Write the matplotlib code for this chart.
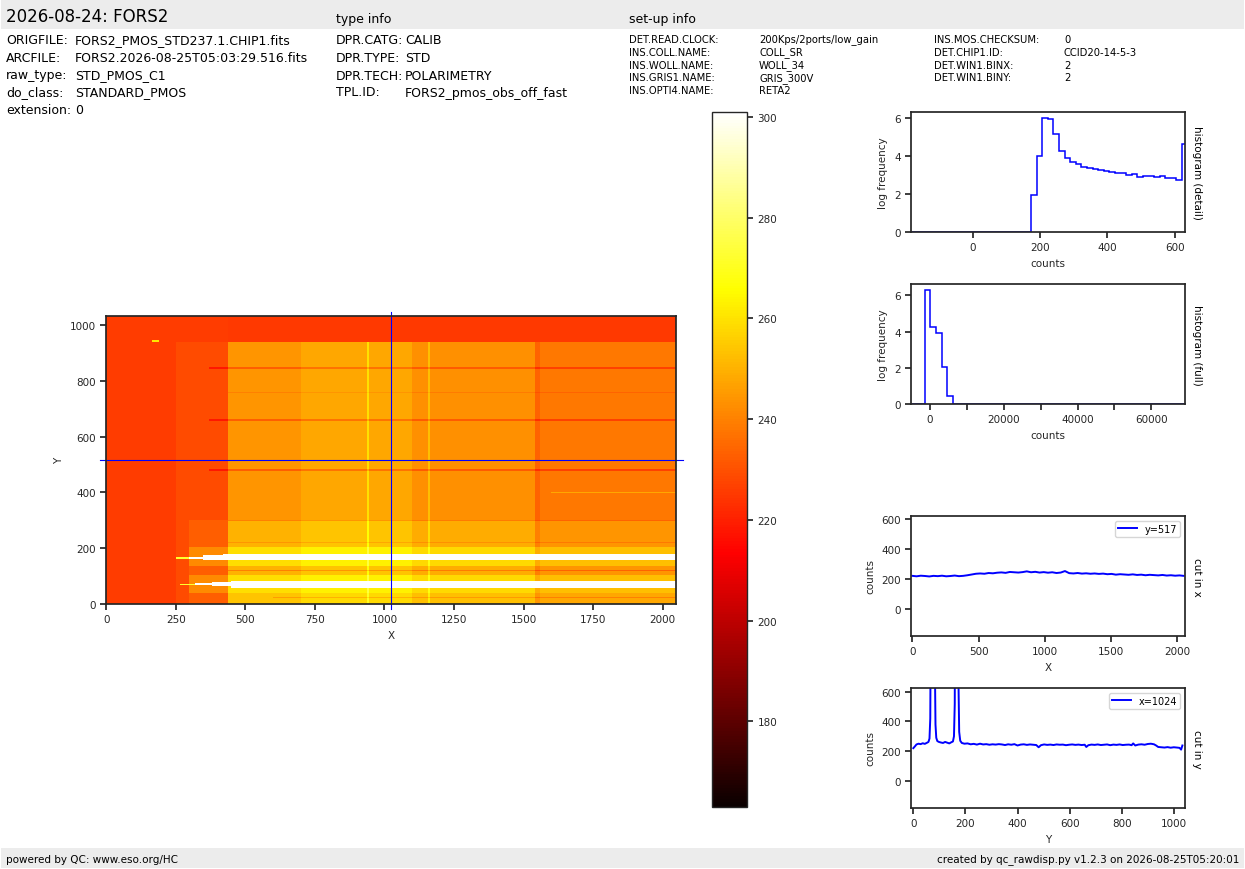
import numpy as np
import matplotlib
matplotlib.use("Agg")
import matplotlib.pyplot as plt
from matplotlib.patches import Rectangle

# ---- header / footer text
title = "2026-08-24: FORS2"
file_keys = ["ORIGFILE:", "ARCFILE:", "raw_type:", "do_class:", "extension:"]
file_vals = ["FORS2_PMOS_STD237.1.CHIP1.fits", "FORS2.2026-08-25T05:03:29.516.fits",
             "STD_PMOS_C1", "STANDARD_PMOS", "0"]
type_keys = ["DPR.CATG:", "DPR.TYPE:", "DPR.TECH:", "TPL.ID:"]
type_vals = ["CALIB", "STD", "POLARIMETRY", "FORS2_pmos_obs_off_fast"]
setup_keys1 = ["DET.READ.CLOCK:", "INS.COLL.NAME:", "INS.WOLL.NAME:", "INS.GRIS1.NAME:", "INS.OPTI4.NAME:"]
setup_vals1 = ["200Kps/2ports/low_gain", "COLL_SR", "WOLL_34", "GRIS_300V", "RETA2"]
setup_keys2 = ["INS.MOS.CHECKSUM:", "DET.CHIP1.ID:", "DET.WIN1.BINX:", "DET.WIN1.BINY:"]
setup_vals2 = ["0", "CCID20-14-5-3", "2", "2"]
footer_left = "powered by QC: www.eso.org/HC"
footer_right = "created by qc_rawdisp.py v1.2.3 on 2026-08-25T05:20:01"

# ---- image model (detector 2048 x 1034), regions: x0, x1, y0, y1, level
nx, ny = 2048, 1034
base_regions = [
    (0, 2048, 0, 1034, 226),
    (250, 440, 0, 940, 229),
    (440, 700, 0, 940, 244),
    (700, 1100, 0, 940, 248),
    (1100, 1540, 0, 940, 243),
    (1540, 1560, 0, 940, 234),
    (1560, 2048, 0, 940, 238),
    (440, 2048, 940, 1034, 225),
]
offset_regions = [
    (300, 440, 0, 300, 4), (440, 2048, 0, 300, 6),
    (300, 2048, 135, 205, 9), (300, 2048, 38, 105, 9),
    (440, 2048, 0, 38, 4),
    (370, 2048, 845, 851, -11), (370, 2048, 657, 663, -11),
    (370, 2048, 477, 483, -11), (440, 2048, 297, 302, -10),
    (440, 2048, 117, 122, -10), (600, 2048, 20, 24, -8),
    (700, 2048, 573, 576, -6), (440, 2048, 218, 221, -6),
    (440, 2048, 758, 761, -4), (1600, 2048, 398, 402, 10),
    (937, 944, 0, 940, 12), (1157, 1163, 0, 940, 10),
    (165, 190, 942, 948, 35),
]
spectra_regions = [
    (250, 300, 163, 167, 272), (300, 350, 160, 170, 330),
    (350, 420, 157, 176, 330), (420, 2048, 157, 181, 330),
    (265, 320, 69, 73, 272), (320, 380, 67, 76, 330),
    (380, 450, 63, 80, 330), (450, 2048, 59, 82, 330),
]
vmin, vmax = 163, 301
cut_row, cut_col = 517, 1024

# ---- histograms
det_edges = [-190, 173, 189.6, 206.2, 222.8, 239.4, 256, 272.6, 289.2, 305.8, 322.4, 339,
             355.6, 372.2, 388.8, 405.4, 422, 438.6, 455.2, 471.8, 488.4, 505, 521.6,
             538.2, 554.8, 571.4, 588, 604.6, 621.2, 637.8]
det_logfreq = [0, 1.95, 4.0, 6.0, 5.95, 5.17, 4.26, 3.88, 3.70, 3.56, 3.44, 3.39, 3.33,
               3.25, 3.19, 3.14, 3.12, 3.10, 3.02, 3.07, 2.91, 2.96, 2.96, 2.91, 2.96,
               2.86, 2.86, 2.75, 4.61]
full_edges = [-6000, -1350, 180, 1710, 3240, 4770, 6300, 70000]
full_logfreq = [0, 6.32, 4.28, 3.95, 2.05, 0.46, 0]

# ---- cuts
cutx_pos = list(range(0, 2048, 32)) + [2047]
cutx_val = [222, 219, 223, 221, 218, 222, 220, 223, 219, 221, 224, 220, 222, 226, 231, 236,
            238, 236, 241, 239, 243, 245, 242, 248, 246, 244, 247, 252, 246, 249, 244, 247,
            243, 246, 241, 244, 254, 240, 238, 241, 237, 239, 236, 238, 235, 237, 233, 235,
            230, 233, 231, 229, 232, 228, 230, 226, 229, 227, 225, 228, 224, 226, 223, 225,
            222]
cuty_pos = [0, 6, 12, 20, 28, 36, 44, 52, 58, 62, 65, 68, 71, 75, 79, 82, 85, 88, 92, 98,
            106, 114, 122, 130, 138, 146, 152, 156, 159, 162, 166, 170, 173, 176, 180, 186,
            196, 208, 220, 232, 244, 256, 268, 280, 292, 304, 316, 328, 340, 352, 364, 376,
            388, 400, 412, 424, 436, 448, 460, 472, 481, 490, 502, 514, 526, 538, 550, 562,
            574, 586, 598, 610, 622, 634, 646, 658, 664, 672, 684, 696, 708, 720, 732, 744,
            756, 768, 780, 792, 804, 816, 828, 838, 844, 852, 864, 876, 888, 900, 912, 924,
            932, 940, 952, 964, 976, 988, 1000, 1012, 1022, 1028, 1033]
cuty_val = [220, 232, 245, 250, 247, 253, 249, 256, 262, 285, 420, 1500, 4000, 5000, 3000,
            900, 380, 290, 268, 262, 258, 255, 262, 257, 252, 260, 265, 300, 520, 2500, 5000,
            2500, 700, 330, 270, 255, 250, 252, 246, 249, 244, 250, 245, 247, 243, 246, 244,
            247, 245, 241, 246, 243, 247, 238, 244, 246, 242, 245, 243, 241, 226, 240, 245,
            242, 244, 241, 245, 243, 244, 240, 243, 245, 242, 244, 241, 243, 228, 240, 244,
            242, 245, 241, 243, 245, 240, 244, 242, 245, 241, 243, 244, 240, 252, 238, 244,
            246, 243, 248, 250, 246, 238, 228, 226, 224, 227, 223, 226, 224, 222, 210, 238]
assert len(cuty_pos) == len(cuty_val)
assert len(cutx_pos) == len(cutx_val)

# ---- style
plt.rcParams.update({
    "font.family": "DejaVu Sans",
    "font.size": 7.5,
    "axes.edgecolor": "#262626",
    "axes.linewidth": 1.25,
    "xtick.major.width": 1.25,
    "ytick.major.width": 1.25,
    "xtick.major.size": 4,
    "ytick.major.size": 4,
    "xtick.color": "#262626",
    "ytick.color": "#262626",
    "axes.labelcolor": "#262626",
    "axes.labelsize": 7.5,
    "xtick.labelsize": 7.5,
    "ytick.labelsize": 7.5,
})

W, H = 1245, 870
fig = plt.figure(figsize=(W / 100, H / 100), dpi=100)


def rect(l, t, r, b):
    return [l / W, 1 - b / H, (r - l) / W, (b - t) / H]


def ftxt(x, y, s, **kw):
    fig.text(x / W, 1 - y / H, s, va="center", **kw)


# header and footer bands
fig.patches.append(Rectangle((1 / W, 1 - 30 / H), 1 - 2 / W, 29 / H, transform=fig.transFigure,
                             facecolor="#ececec", edgecolor="none", zorder=0))
fig.patches.append(Rectangle((1 / W, 1 / H), 1 - 2 / W, 20 / H, transform=fig.transFigure,
                             facecolor="#ececec", edgecolor="none", zorder=0))
ftxt(6, 17, title, fontsize=12)
ftxt(336, 19, "type info", fontsize=9)
ftxt(629, 19, "set-up info", fontsize=9)
for i, (k, v) in enumerate(zip(file_keys, file_vals)):
    y = [41, 58, 76, 93, 110][i]
    ftxt(6, y, k, fontsize=9)
    ftxt(75, y, v, fontsize=9)
for i, (k, v) in enumerate(zip(type_keys, type_vals)):
    y = [41, 58, 76, 93][i]
    ftxt(336, y, k, fontsize=9)
    ftxt(405, y, v, fontsize=9)
for i, (k, v) in enumerate(zip(setup_keys1, setup_vals1)):
    y = 40 + i * 12.8
    ftxt(629, y, k, fontsize=7.2)
    ftxt(759, y, v, fontsize=7.2)
for i, (k, v) in enumerate(zip(setup_keys2, setup_vals2)):
    y = 40 + i * 12.8
    ftxt(934, y, k, fontsize=7.2)
    ftxt(1064, y, v, fontsize=7.2)
ftxt(6, 860, footer_left, fontsize=7.5)
fig.text(1239 / W, 1 - 860 / H, footer_right, va="center", ha="right", fontsize=7.5)

# ---- detector image
img = np.zeros((ny, nx))
for x0, x1, y0, y1, v in base_regions:
    img[y0:y1, x0:x1] = v
for x0, x1, y0, y1, v in offset_regions:
    img[y0:y1, x0:x1] += v
for x0, x1, y0, y1, v in spectra_regions:
    img[y0:y1, x0:x1] = v

ax = fig.add_axes(rect(106, 317, 676, 605))
im = ax.imshow(img, origin="lower", cmap="hot", vmin=vmin, vmax=vmax, aspect="auto",
               extent=(-0.5, nx - 0.5, -0.5, ny - 0.5), interpolation="nearest")
ax.plot([cut_col, cut_col], [-20, ny + 14], color="blue", lw=0.8, clip_on=False)
ax.plot([-22, nx + 24], [cut_row, cut_row], color="blue", lw=0.8, clip_on=False)
ax.set_xlim(-0.5, nx - 0.5)
ax.set_ylim(-0.5, ny - 0.5)
ax.set_xticks(range(0, 2001, 250))
ax.set_yticks(range(0, 1001, 200))
ax.set_xlabel("X")
ax.set_ylabel("Y")

cax = fig.add_axes(rect(712, 113, 747, 808))
cb = fig.colorbar(im, cax=cax)
cb.set_ticks(range(180, 301, 20))
cb.outline.set_linewidth(1.0)

# ---- histograms
axh = fig.add_axes(rect(911, 113, 1185, 233))
axh.stairs(det_logfreq, det_edges, color="blue", lw=1.1, baseline=None)
axh.set_xlim(-183, 630)
axh.set_ylim(0, 6.32)
axh.set_xticks([0, 200, 400, 600])
axh.set_yticks([0, 2, 4, 6])
axh.set_xlabel("counts")
axh.set_ylabel("log frequency")
axh.text(1.025, 0.5, "histogram (detail)", rotation=270, transform=axh.transAxes,
         va="center", ha="left")

axf = fig.add_axes(rect(911, 285, 1185, 405))
axf.stairs(full_logfreq, full_edges, color="blue", lw=1.1, baseline=None)
axf.set_xlim(-5100, 69100)
axf.set_ylim(0, 6.63)
axf.set_xticks(range(0, 60001, 10000))
axf.set_xticklabels([str(t) if t % 20000 == 0 else "" for t in range(0, 60001, 10000)])
axf.set_yticks([0, 2, 4, 6])
axf.set_xlabel("counts")
axf.set_ylabel("log frequency")
axf.text(1.025, 0.5, "histogram (full)", rotation=270, transform=axf.transAxes,
         va="center", ha="left")

# ---- cuts
axx = fig.add_axes(rect(911, 517, 1185, 637))
axx.plot(cutx_pos, cutx_val, color="blue", lw=1.4, label="y=%d" % cut_row)
axx.set_xlim(-10, 2058)
axx.set_ylim(-180, 622)
axx.set_xticks([0, 500, 1000, 1500, 2000])
axx.set_yticks([0, 200, 400, 600])
axx.set_xlabel("X")
axx.set_ylabel("counts")
axx.legend(loc="upper right", fontsize=7, handlelength=2, borderpad=0.3)
axx.text(1.025, 0.5, "cut in x", rotation=270, transform=axx.transAxes,
         va="center", ha="left")

axy = fig.add_axes(rect(911, 689, 1185, 809))
axy.plot(cuty_pos, cuty_val, color="blue", lw=1.4, label="x=%d" % cut_col)
axy.set_xlim(-9, 1043)
axy.set_ylim(-184, 626)
axy.set_xticks(range(0, 1001, 200))
axy.set_yticks([0, 200, 400, 600])
axy.set_xlabel("Y")
axy.set_ylabel("counts")
axy.legend(loc="upper right", fontsize=7, handlelength=2, borderpad=0.3)
axy.text(1.025, 0.5, "cut in y", rotation=270, transform=axy.transAxes,
         va="center", ha="left")

fig.savefig("out.png", dpi=100)
